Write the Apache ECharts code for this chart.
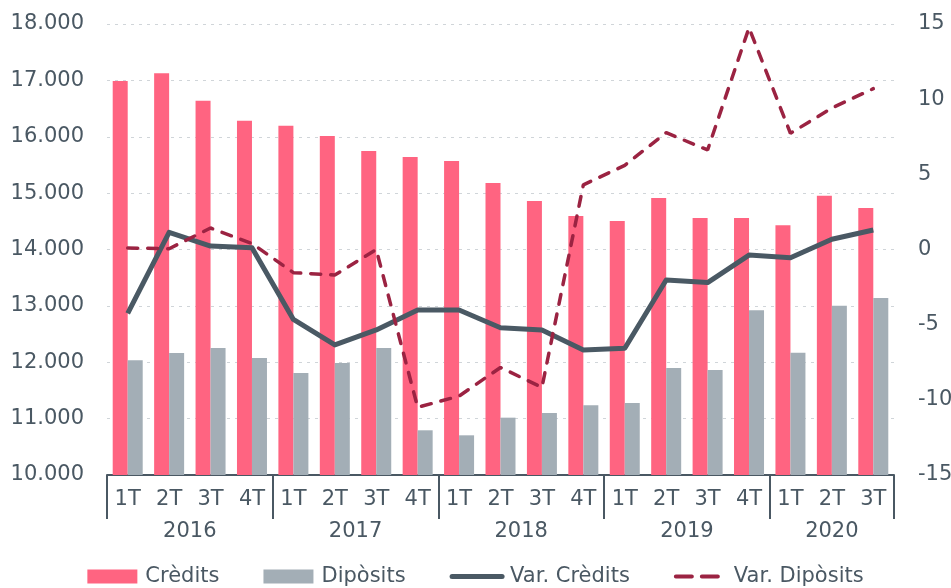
<!DOCTYPE html>
<html>
<head>
<meta charset="utf-8">
<script src="https://cdn.jsdelivr.net/npm/echarts@6/dist/echarts.min.js"></script>
<style>
html,body{margin:0;padding:0;background:#fff;}
#chart{width:951px;height:588px;}
</style>
</head>
<body>
<div id="chart"></div>
<script>
// ---- data ----
var quarterLabels = ['1T','2T','3T','4T','1T','2T','3T','4T','1T','2T','3T','4T','1T','2T','3T','4T','1T','2T','3T'];
var yearOfQuarter = ['2016','2016','2016','2016','2017','2017','2017','2017','2018','2018','2018','2018','2019','2019','2019','2019','2020','2020','2020'];
var credits = [16990,17125,16640,16285,16196,16013,15747,15641,15570,15180,14860,14594,14505,14913,14559,14559,14429,14954,14736];
var diposits = [12034,12164,12253,12075,11809,11987,12253,10793,10704,11017,11100,11236,11277,11898,11862,12921,12170,13004,13140];
var varCredits = [-4.25,1.14,0.23,0.12,-4.65,-6.35,-5.35,-4.02,-4.02,-5.2,-5.35,-6.69,-6.57,-2.03,-2.2,-0.37,-0.55,0.68,1.3];
var varDiposits = [0.1,0.05,1.43,0.4,-1.54,-1.7,0.0,-10.5,-9.75,-7.85,-9.17,4.3,5.6,7.77,6.62,14.75,7.73,9.41,10.7];
var seriesNames = ['Crèdits','Dipòsits','Var. Crèdits','Var. Dipòsits'];

// ---- styling ----
var textColor = '#4a5863';
var font = 'DejaVu Sans';
var fs = 21;
var gridLeft = 107, gridRight = 57, W = 951;
var band = (W - gridLeft - gridRight) / quarterLabels.length;
var colCred = '#ff6481', colDip = '#a3aeb6', colVarCred = '#4a5964', colVarDip = '#9b2342';

function thousands(v){ return String(v).replace(/\B(?=(\d{3})+(?!\d))/g, '.'); }

// year group info derived from yearOfQuarter
var groupStart = {}, groupCount = {};
yearOfQuarter.forEach(function(y, i){
  if (groupStart[y] === undefined) { groupStart[y] = i; groupCount[y] = 0; }
  groupCount[y]++;
});
function isGroupStart(i){ return i === 0 || yearOfQuarter[i] !== yearOfQuarter[i-1]; }
function labelIndex(i){
  var y = yearOfQuarter[i];
  return i === groupStart[y] + Math.floor((groupCount[y]-1)/2);
}

var chart = echarts.init(document.getElementById('chart'), null, {renderer:'canvas'});
chart.setOption({
  animation: false,
  backgroundColor: '#ffffff',
  textStyle: { fontFamily: font },
  grid: { left: gridLeft, right: gridRight, top: 24, bottom: 113, containLabel: false, outerBoundsMode: 'none' },
  legend: {
    top: 561,
    left: 'center',
    itemWidth: 50,
    itemHeight: 14,
    itemGap: 44,
    textStyle: { color: textColor, fontSize: fs, fontFamily: font, padding: [0,0,0,3] },
    data: [
      { name: seriesNames[0], icon: 'rect' },
      { name: seriesNames[1], icon: 'rect' },
      { name: seriesNames[2], itemStyle: { opacity: 0 }, lineStyle: { width: 5, cap: 'round' } },
      { name: seriesNames[3], itemStyle: { opacity: 0 }, lineStyle: { width: 4, type: [16, 10], cap: 'round' } }
    ]
  },
  xAxis: [
    {
      type: 'category',
      data: quarterLabels,
      position: 'bottom',
      axisLine: { show: true, onZero: false, lineStyle: { color: textColor, width: 2 } },
      axisTick: { show: false },
      axisLabel: { interval: 0, color: textColor, fontSize: fs, fontFamily: font, margin: 14 },
      splitLine: { show: false }
    },
    {
      type: 'category',
      data: yearOfQuarter,
      position: 'bottom',
      offset: 0,
      axisLine: { show: false, onZero: false },
      axisTick: {
        show: true,
        inside: false,
        length: 44,
        interval: function(i){ return isGroupStart(i); },
        lineStyle: { color: textColor, width: 2 }
      },
      axisLabel: {
        interval: function(i){ return labelIndex(i); },
        color: textColor, fontSize: fs, fontFamily: font, margin: 46,
        formatter: function(v, i){
          var y = yearOfQuarter[i];
          return groupCount[y] % 2 === 0 ? '{s|' + v + '}' : '{c|' + v + '}';
        },
        rich: {
          s: { padding: [0,0,0,band], fontSize: fs, color: textColor, fontFamily: font },
          c: { fontSize: fs, color: textColor, fontFamily: font }
        }
      },
      splitLine: { show: false }
    }
  ],
  yAxis: [
    {
      type: 'value',
      min: 10000, max: 18000, interval: 1000,
      axisLine: { show: false },
      axisTick: { show: false },
      axisLabel: { color: textColor, fontSize: fs, fontFamily: font, margin: 23, formatter: thousands },
      splitLine: { show: true, lineStyle: { color: '#d0d5d9', type: [3,5], width: 1 } }
    },
    {
      type: 'value',
      min: -15, max: 15, interval: 5,
      axisLine: { show: false },
      axisTick: { show: false },
      axisLabel: { color: textColor, fontSize: fs, fontFamily: font, margin: 24 },
      splitLine: { show: false }
    }
  ],
  series: [
    { name: seriesNames[0], type: 'bar', data: credits, barWidth: 15, barGap: '0%', itemStyle: { color: colCred }, xAxisIndex: 0, yAxisIndex: 0 },
    { name: seriesNames[1], type: 'bar', data: diposits, barWidth: 15, barGap: '0%', itemStyle: { color: colDip }, xAxisIndex: 0, yAxisIndex: 0 },
    { name: seriesNames[2], type: 'line', data: varCredits, yAxisIndex: 1, symbol: 'none', lineStyle: { color: colVarCred, width: 5, join: 'round' }, itemStyle: { color: colVarCred }, z: 3 },
    { name: seriesNames[3], type: 'line', data: varDiposits, yAxisIndex: 1, symbol: 'none', lineStyle: { color: colVarDip, width: 3.5, type: [10, 10], cap: 'round' }, itemStyle: { color: colVarDip }, z: 4 }
  ]
});
</script>
</body>
</html>
